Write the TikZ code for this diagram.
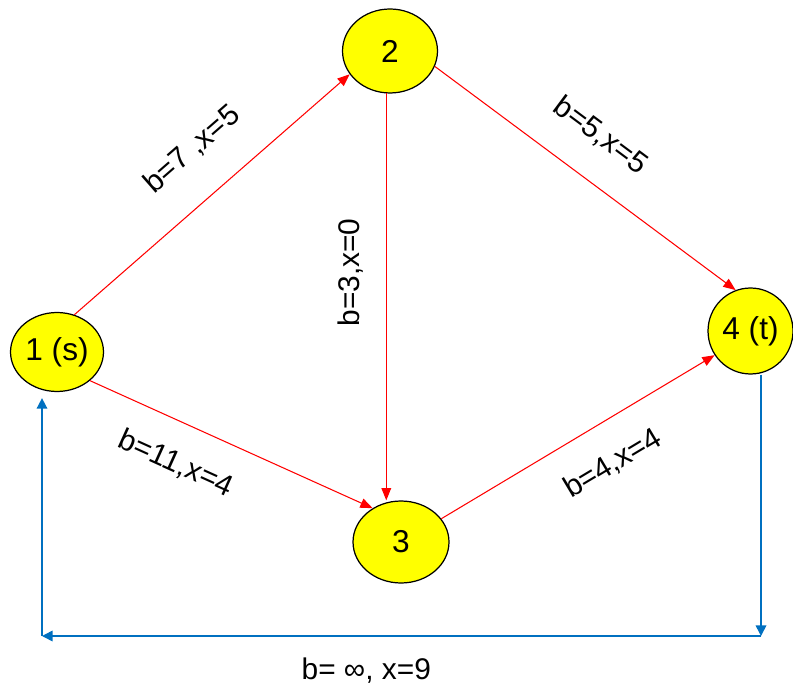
\documentclass[tikz,border=0pt]{standalone}
\usepackage{fontspec}
\setmainfont{Liberation Sans}
\usetikzlibrary{arrows.meta,shapes.geometric}
\definecolor{nodeyellow}{RGB}{255,255,0}
\definecolor{flowred}{RGB}{255,0,0}
\definecolor{backblue}{RGB}{0,112,192}

\begin{document}
\begin{tikzpicture}[x=0.02cm,y=-0.02cm,
          vertex/.style={ellipse,draw=black,line width=0.7pt,
            fill=nodeyellow,inner sep=0pt,
            font=\fontsize{18}{20}\selectfont},
          flow/.style={-{Triangle[length=7pt,width=5.5pt]},
            flowred,line width=0.6pt},
          back/.style={-{Triangle[length=6pt,width=6pt]},
            backblue,line width=0.9pt},
          lbl/.style={font=\fontsize{17}{19}\selectfont,
            inner sep=0pt,text=black}]

        \useasboundingbox (0,0) rectangle (793,688);

        \node[vertex,minimum width=1.86cm,minimum height=1.58cm] (n1)
          at (57,352) {1 (s)};
        \node[vertex,minimum width=1.9cm,minimum height=1.68cm] (n2)
          at (390,51) {2};
        \node[vertex,minimum width=1.92cm,minimum height=1.64cm] (n3)
          at (401,542) {3};
        \node[vertex,minimum width=1.7cm,minimum height=1.72cm] (n4)
          at (750.5,331) {4 (t)};

        \draw[flow] (n1.65) --
          node[lbl,sloped,above=0.68cm,pos=0.54] {b=7 ,x=5} (n2.210);
        \draw[flow] (n2.341) --
          node[lbl,sloped,above=0.6cm,pos=0.465] {b=5,x=5} (n4.110);
        \draw[flow] (n2.265) --
          node[lbl,pos=0.44,xshift=-0.72cm,rotate=90] {b=3,x=0}
          (n2.265 |- n3.north);
        \draw[flow] (n1.319) --
          node[lbl,sloped,below=0.54cm,pos=0.363] {b=11,x=4} (n3.130);
        \draw[flow] (n3.30) --
          node[lbl,sloped,below=0.55cm,pos=0.551] {b=4,x=4} (n4.214);

        \coordinate (c4) at (761,636);
        \coordinate (c1) at (42,636);
        \draw[back] (n4.south -| c4) -- (c4);
        \draw[back] (c4) --
          node[lbl,below=0.42cm,pos=0.549] {b= ∞, x=9} (c1);
        \draw[back,shorten >=0.12cm] (c1) -- (c1 |- n1.south);

      \end{tikzpicture}
\end{document}
